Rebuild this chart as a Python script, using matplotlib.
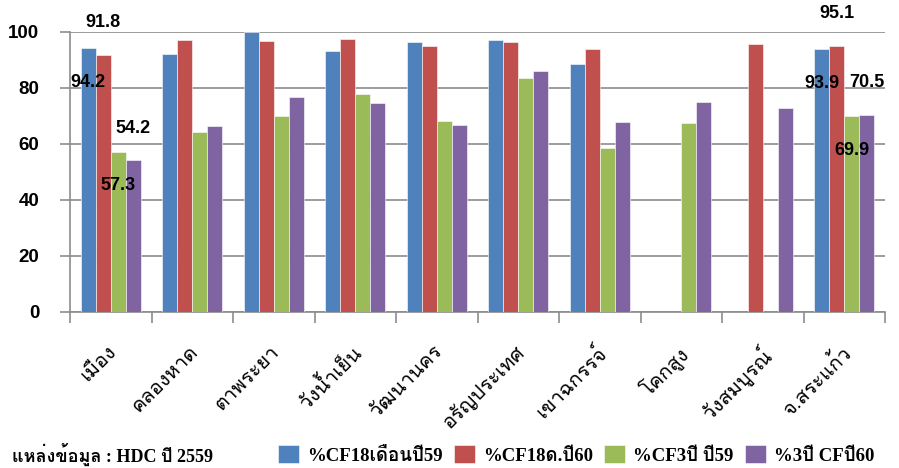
import matplotlib
matplotlib.use("Agg")
import matplotlib.pyplot as plt
from matplotlib import font_manager
from matplotlib.ft2font import FT2Font
import numpy as np


def find_thai_font():
    # pick the first installed font that has Thai glyphs
    for path in sorted(font_manager.findSystemFonts()):
        try:
            if 0x0E01 in FT2Font(path).get_charmap():
                font_manager.fontManager.addfont(path)
                return font_manager.FontProperties(fname=path).get_name()
        except Exception:
            continue
    return None


thai = find_thai_font()
extra = [thai] if thai else []
sans = ["Liberation Sans"] + extra + ["DejaVu Sans"]
serif = ["Liberation Serif"] + extra + ["DejaVu Serif"]
plt.rcParams["font.family"] = sans

districts = ["เมือง", "คลองหาด", "ตาพระยา", "วังน้ำเย็น", "วัฒนานคร",
             "อรัญประเทศ", "เขาฉกรรจ์", "โคกสูง", "วังสมบูรณ์", "จ.สระแก้ว"]
series_names = ["%CF18เดือนปี59", "%CF18ด.ปี60", "%CF3ปี ปี59", "%3ปี CFปี60"]
cf18_59 = [94.2, 92.1, 100.0, 93.1, 96.3, 97.1, 88.4, np.nan, np.nan, 93.9]
cf18_60 = [91.8, 97.0, 96.9, 97.4, 95.0, 96.3, 93.8, np.nan, 95.8, 95.1]
cf3_59 = [57.3, 64.3, 70.0, 77.9, 68.1, 83.6, 58.7, 67.4, np.nan, 69.9]
cf3_60 = [54.2, 66.3, 76.9, 74.5, 66.9, 86.1, 67.7, 74.9, 72.7, 70.5]
colors = ["#4f81bd", "#c0504d", "#9bbb59", "#8064a2"]

# only the first and last groups carry value labels
labelled = [0, 9]

fig = plt.figure(figsize=(8.99, 4.68), dpi=100)
ax = fig.add_axes([70 / 899, 1 - 312 / 468, 815 / 899, 280 / 468])

x = np.arange(len(districts))
w = 0.185
data = [cf18_59, cf18_60, cf3_59, cf3_60]
for k, vals in enumerate(data):
    pos = x + (k - 1.5) * w
    ax.bar(pos, vals, width=w, color=colors[k], label=series_names[k],
           edgecolor="white", linewidth=0.4, zorder=3)
    for i in labelled:
        v = vals[i]
        # blue/green labels sit inside the bar, red/purple ones above it
        ty = v - 12.3 if k in (0, 2) else v + 11.5
        ax.text(pos[i], ty, f"{v:.1f}", ha="center", va="center",
                fontsize=13, fontweight="bold", clip_on=False, zorder=5)

ax.set_xlim(-0.5, len(districts) - 0.5)
ax.set_ylim(0, 100)
ax.set_yticks(range(0, 101, 20))
ax.yaxis.grid(True, color="#8c8c8c", linewidth=1.2, zorder=0)
ax.set_axisbelow(True)
for s in ["top", "right"]:
    ax.spines[s].set_visible(False)
for s in ["left", "bottom"]:
    ax.spines[s].set_color("#8c8c8c")
    ax.spines[s].set_linewidth(1.2)

ax.tick_params(axis="y", length=7, width=1.2, color="#8c8c8c", pad=15,
               labelsize=13.5)
for t in ax.get_yticklabels():
    t.set_fontweight("bold")

# tick marks on the category boundaries, names at the centres
ax.set_xticks(np.arange(-0.5, len(districts), 1.0))
ax.set_xticklabels([])
ax.tick_params(axis="x", length=8, width=1.2, color="#8c8c8c")
for i, name in enumerate(districts):
    ax.annotate(name, xy=(i - 0.05, 0), xycoords=("data", "axes fraction"),
                xytext=(0, -30), textcoords="offset pixels",
                rotation=45, rotation_mode="anchor", ha="right", va="top",
                fontsize=14.5, annotation_clip=False)

ax.legend(loc="center left", bbox_to_anchor=(278 / 899, 1 - 455 / 468),
          bbox_transform=fig.transFigure, ncol=4, frameon=False,
          borderpad=0, borderaxespad=0,
          prop={"family": serif, "weight": "bold", "size": 13.5},
          handlelength=1.1, handleheight=1.1, handletextpad=0.45,
          columnspacing=0.6)

fig.text(12 / 899, 2 / 468, "แหล่งข้อมูล : HDC ปี 2559", fontsize=13,
         fontweight="bold", family=serif, ha="left", va="bottom")

fig.savefig("out.png", dpi=100)
